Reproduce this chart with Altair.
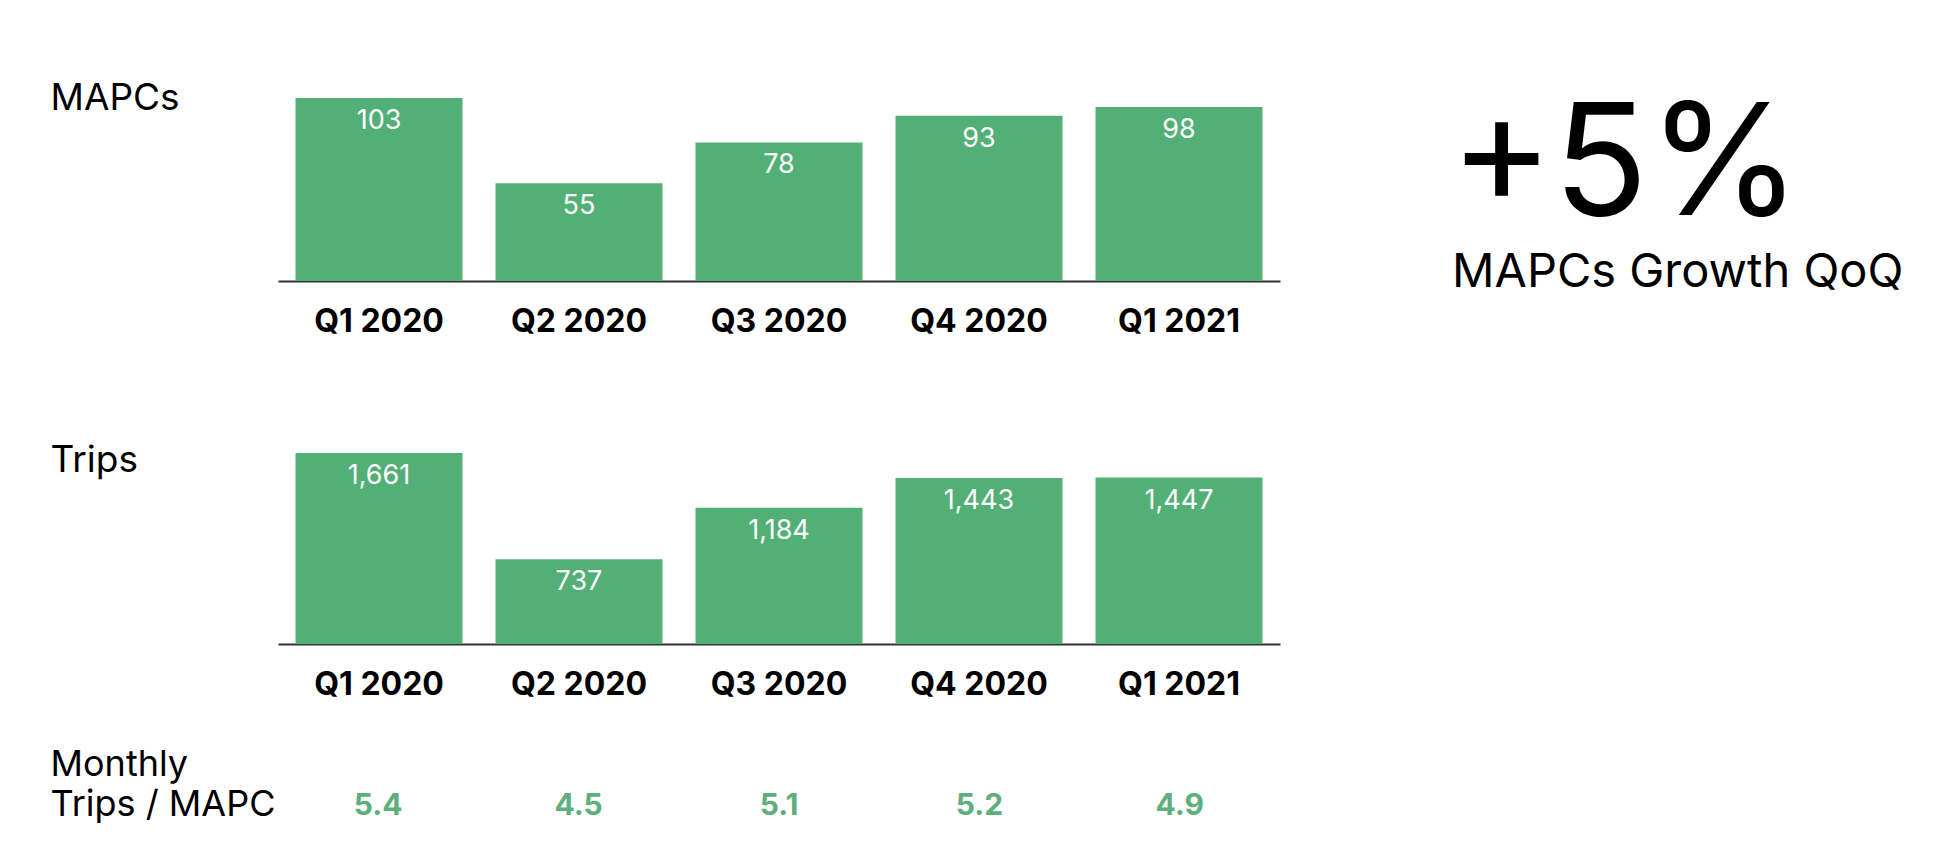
import altair as alt
import pandas as pd

quarters = ["Q1 2020", "Q2 2020", "Q3 2020", "Q4 2020", "Q1 2021"]
mapcs = [103, 55, 78, 93, 98]
trips = [1661, 737, 1184, 1443, 1447]
trips_per_mapc = ["5.4", "4.5", "5.1", "5.2", "4.9"]
kpi_value = ["+5%"]
kpi_label = ["MAPCs Growth QoQ"]

GREEN = "#52B077"
FONT = "Inter"

df = pd.DataFrame({"quarter": quarters, "mapcs": mapcs, "trips": trips, "ratio": trips_per_mapc})

xscale = alt.Scale(paddingInner=0.165, paddingOuter=0.0875)
xaxis = alt.Axis(title=None, labelAngle=0, labelFont=FONT, labelFontSize=32, labelFontWeight="bold",
                 labelColor="black", labelPadding=25, ticks=False, domainColor="#333333", domainWidth=2,
                 grid=False)


def panel(field, title, height, fmt, title_y):
    yaxis = alt.Axis(title=title, titleAngle=0, titleAlign="left", titleBaseline="alphabetic",
                     titleX=-228, titleY=title_y, titleFont=FONT, titleFontSize=37, titleFontWeight="normal",
                     titleColor="black", labels=False, ticks=False, domain=False, grid=False)
    base = alt.Chart(df).encode(
        x=alt.X("quarter:N", sort=quarters, scale=xscale, axis=xaxis),
        y=alt.Y(f"{field}:Q", scale=alt.Scale(domain=[0, max(df[field])], nice=False, zero=True), axis=yaxis),
    )
    bars = base.mark_bar(color=GREEN)
    labels = base.mark_text(baseline="alphabetic", dy=31, font=FONT, fontSize=27, color="white").encode(
        text=alt.Text(f"{field}:Q", format=fmt)
    )
    return (bars + labels).properties(width=1002, height=height)


top = panel("mapcs", "MAPCs", 183, "d", 11)
mid = panel("trips", "Trips", 191, ",", 18)

ratio_axis = alt.Axis(title=["Monthly", "Trips / MAPC"], titleAngle=0, titleAlign="left", titleBaseline="alphabetic",
                      titleX=-228, titleY=-1, titleFont=FONT, titleFontSize=36, titleFontWeight="normal",
                      titleLineHeight=40, titleColor="black", labels=False, ticks=False, domain=False, grid=False)
ratio = alt.Chart(df).mark_text(baseline="alphabetic", font=FONT, fontSize=30, fontWeight="bold", color="#5DAF7B").encode(
    x=alt.X("quarter:N", sort=quarters, scale=xscale, axis=None),
    y=alt.Y("ratio:N", axis=ratio_axis, scale=alt.Scale(range=[39, 39])),
    text="ratio:N",
).properties(width=1002, height=40)

left = alt.vconcat(alt.vconcat(top, mid, spacing=104), ratio, spacing=46)

kdf = pd.DataFrame({"value": kpi_value, "label": kpi_label})
kpi_big = alt.Chart(kdf).mark_text(align="left", baseline="alphabetic", font=FONT, fontSize=156,
                                    fontWeight=400, color="black").encode(
    x=alt.value(0), y=alt.value(117), text="value:N")
kpi_small = alt.Chart(kdf).mark_text(align="left", baseline="alphabetic", font=FONT, fontSize=47,
                                      fontWeight=400, color="black").encode(
    x=alt.value(2), y=alt.value(189), text="label:N")
kpi = (kpi_big + kpi_small).properties(width=450, height=200)

chart = alt.hconcat(left, kpi, spacing=170).properties(
    padding={"left": 42, "top": 71, "right": 5, "bottom": 5}
).configure(font=FONT).configure_view(stroke=None)

chart.save("out.html", embed_options={"renderer": "svg", "actions": False})
